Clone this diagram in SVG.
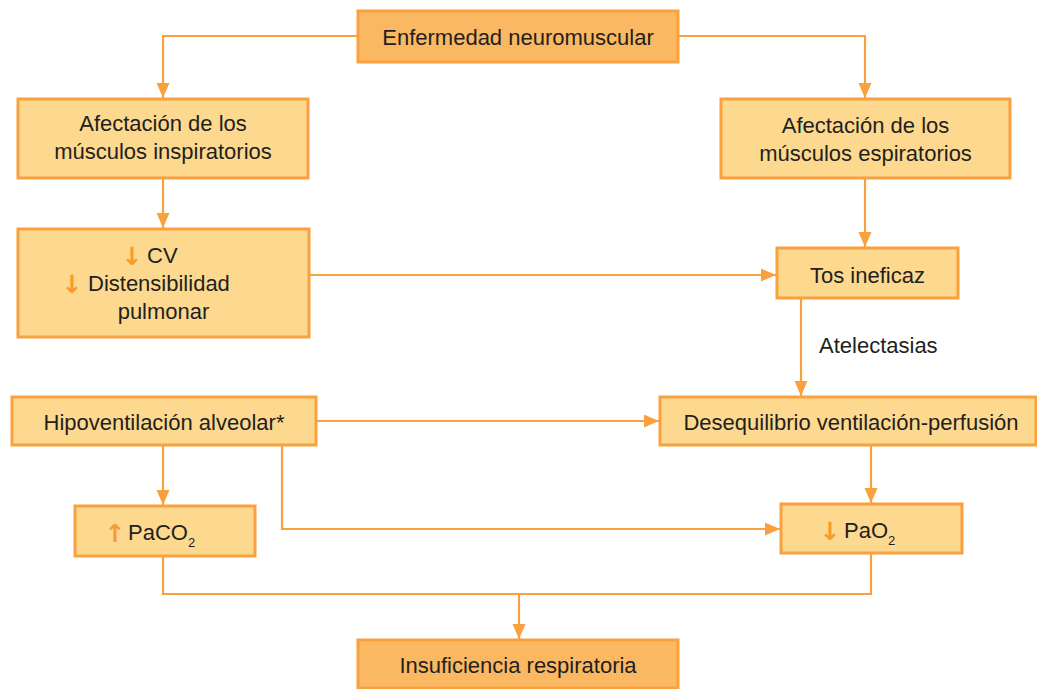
<svg xmlns="http://www.w3.org/2000/svg" width="1037" height="689" viewBox="0 0 1037 689">
<style>
.box{fill:#FDD88F;stroke:#F9A03F;stroke-width:3}
.dark{fill:#FBB862}
.t{font-family:"Liberation Sans",Arial,sans-serif;font-size:22px;fill:#231F20}
.m{text-anchor:middle}
.ar{font-family:"DejaVu Sans",sans-serif;font-weight:bold;font-size:25px;fill:#F79A30;text-anchor:middle}
.sub{font-size:13px}
.c{fill:none;stroke:#F9A03F;stroke-width:2.2}
</style>
<defs>
<marker id="ah" markerUnits="userSpaceOnUse" markerWidth="16" markerHeight="14" refX="15" refY="6.5" orient="auto">
<path d="M0,0 L15,6.5 L0,13 z" fill="#F9A03F"/>
</marker>
</defs>
<rect width="1037" height="689" fill="#fff"/>
<g id="connectors">
<path class="c" d="M358,36 H163 V98" marker-end="url(#ah)"/>
<path class="c" d="M678,36 H865 V98" marker-end="url(#ah)"/>
<path class="c" d="M163,178 V228" marker-end="url(#ah)"/>
<path class="c" d="M865,178 V247" marker-end="url(#ah)"/>
<path class="c" d="M309,275 H776" marker-end="url(#ah)"/>
<path class="c" d="M801,298 V396" marker-end="url(#ah)"/>
<path class="c" d="M316,421 H659" marker-end="url(#ah)"/>
<path class="c" d="M163,445 V505" marker-end="url(#ah)"/>
<path class="c" d="M282,445 V529 H780" marker-end="url(#ah)"/>
<path class="c" d="M871,445 V503" marker-end="url(#ah)"/>
<path class="c" d="M163,556 V594 H871 V553"/>
<path class="c" d="M519,594 V639" marker-end="url(#ah)"/>
<text class="t" x="819" y="353">Atelectasias</text>
</g>
<g id="n1">
<rect class="box dark" x="358" y="11" width="320" height="51"/>
<text class="t m" x="518" y="45">Enfermedad neuromuscular</text>
</g>
<g id="n2">
<rect class="box" x="18" y="99" width="290" height="79"/>
<text class="t m" x="163" y="131">Afectación de los</text>
<text class="t m" x="163" y="159">músculos inspiratorios</text>
</g>
<g id="n3">
<rect class="box" x="721" y="99" width="289" height="79"/>
<text class="t m" x="865.5" y="133">Afectación de los</text>
<text class="t m" x="865.5" y="161">músculos espiratorios</text>
</g>
<g id="n4">
<rect class="box" x="18" y="229" width="291" height="108"/>
<text class="ar" x="132" y="265">↓</text>
<text class="t" x="147" y="263">CV</text>
<text class="ar" x="72" y="293">↓</text>
<text class="t" x="88" y="291">Distensibilidad</text>
<text class="t m" x="163.5" y="319">pulmonar</text>
</g>
<g id="n5">
<rect class="box" x="777" y="248" width="181" height="50"/>
<text class="t m" x="867.5" y="283">Tos ineficaz</text>
</g>
<g id="n6">
<rect class="box" x="12" y="397" width="304" height="48"/>
<text class="t m" x="164" y="430">Hipoventilación alveolar*</text>
</g>
<g id="n7">
<rect class="box" x="660" y="397" width="376" height="48"/>
<text class="t m" x="851" y="430">Desequilibrio ventilación-perfusión</text>
</g>
<g id="n8">
<rect class="box" x="75" y="506" width="180" height="50"/>
<text class="ar" x="115" y="542">↑</text>
<text class="t" x="128" y="540">PaCO<tspan class="sub" dy="7">2</tspan></text>
</g>
<g id="n9">
<rect class="box" x="781" y="504" width="181" height="49"/>
<text class="ar" x="830" y="540">↓</text>
<text class="t" x="844" y="538">PaO<tspan class="sub" dy="7">2</tspan></text>
</g>
<g id="n10">
<rect class="box dark" x="358" y="640" width="320" height="48"/>
<text class="t m" x="518" y="673">Insuficiencia respiratoria</text>
</g>
</svg>
